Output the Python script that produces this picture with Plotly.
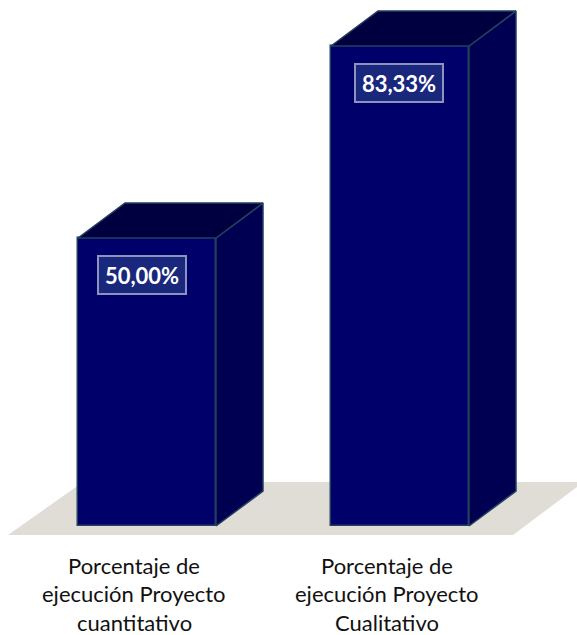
import plotly.graph_objects as go

# Data
categories = ["Porcentaje de ejecución Proyecto cuantitativo",
              "Porcentaje de ejecución Proyecto Cualitativo"]
category_lines = [["Porcentaje de", "ejecución Proyecto", "cuantitativo"],
                  ["Porcentaje de", "ejecución Proyecto", "Cualitativo"]]
values = [50.00, 83.33]
value_labels = ["50,00%", "83,33%"]

# Layout constants (pixels)
W, H = 577, 635
PX_PER_UNIT = 5.76
BASE_PX = 526
CENTER_PX = [147, 400]
BAR_PX = 138
DEPTH_X, DEPTH_Y = 47, 35

spacing = CENTER_PX[1] - CENTER_PX[0]
xr = [(0 - CENTER_PX[0]) / spacing, (W - CENTER_PX[0]) / spacing]
yr = [-(H - BASE_PX) / PX_PER_UNIT, BASE_PX / PX_PER_UNIT]
half = BAR_PX / spacing / 2
dx = DEPTH_X / spacing
dy = DEPTH_Y / PX_PER_UNIT

FRONT = "#00006b"
TOP = "#000040"
SIDE = "#000052"
EDGE = "#23405f"
FLOOR = "#dfddd6"

fig = go.Figure()

for i, v in enumerate(values):
    # side face
    fig.add_trace(go.Scatter(
        x=[i + half, i + half + dx, i + half + dx, i + half, i + half],
        y=[0, dy, v + dy, v, 0],
        mode="lines", fill="toself", fillcolor=SIDE,
        line=dict(color=EDGE, width=1.5), hoverinfo="skip", showlegend=False))
    # top face
    fig.add_trace(go.Scatter(
        x=[i - half, i - half + dx, i + half + dx, i + half, i - half],
        y=[v, v + dy, v + dy, v, v],
        mode="lines", fill="toself", fillcolor=TOP,
        line=dict(color=EDGE, width=1.5), hoverinfo="skip", showlegend=False))

fig.add_trace(go.Bar(
    x=[0, 1], y=values, width=2 * half, customdata=categories,
    marker=dict(color=FRONT, line=dict(color=EDGE, width=1.5)),
    hovertemplate="%{customdata}: %{y}<extra></extra>", showlegend=False))

# Floor
fl_y0 = -9 / PX_PER_UNIT
fl_y1 = 44 / PX_PER_UNIT
fig.add_shape(type="path", layer="below", line_width=0, fillcolor=FLOOR,
              path=(f"M {(8 - CENTER_PX[0]) / spacing} {fl_y0} "
                    f"L {(83 - CENTER_PX[0]) / spacing} {fl_y1} "
                    f"L {xr[1]} {fl_y1} L {xr[1]} {(44 - 5) / PX_PER_UNIT} "
                    f"L {(513 - CENTER_PX[0]) / spacing} {fl_y0} Z"))

label_xshift = [-5.5, -1.5]
for i, (v, t) in enumerate(zip(values, value_labels)):
    fig.add_annotation(x=i, y=v, yref="y", xref="x", text=f"<b>{t}</b>", showarrow=False,
                       xshift=label_xshift[i], yshift=-37, width=84, height=34,
                       bgcolor="#19277c", bordercolor="#8d93bf", borderwidth=2,
                       font=dict(family="Lato", size=22, color="white"))
    for k, line in enumerate(category_lines[i]):
        fig.add_annotation(x=i, y=0, text=line, showarrow=False, borderpad=0,
                           xshift=-13,
                           yshift=-(39 + 28.5 * k),
                           font=dict(family="Lato", size=22, color="#111111"))

fig.update_layout(
    width=W, height=H, margin=dict(l=0, r=0, t=0, b=0),
    paper_bgcolor="white", plot_bgcolor="white",
    xaxis=dict(range=xr, visible=False, fixedrange=True),
    yaxis=dict(range=yr, visible=False, fixedrange=True),
    bargap=0,
)
fig.write_html("out.html", post_script="document.body.style.margin='0';", config={"displayModeBar": False})
